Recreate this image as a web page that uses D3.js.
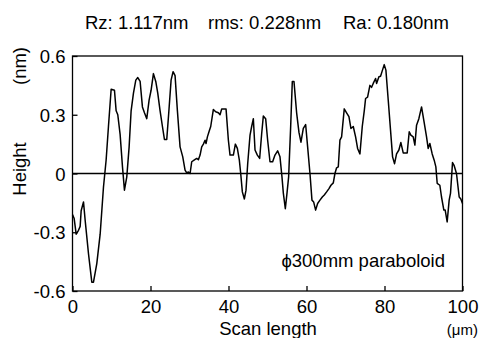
<!DOCTYPE html>
<html><head><meta charset="utf-8">
<script src="https://cdn.jsdelivr.net/npm/d3@7"></script>
<style>
html,body{margin:0;padding:0;background:#fff;}
svg{display:block;font-family:"Liberation Sans",Arial,sans-serif;}
</style></head>
<body>
<svg id="c" width="479" height="338"></svg>
<script>
const titleParts = ["Rz: 1.117nm", "rms: 0.228nm", "Ra: 0.180nm"];
const xTicks = [0, 20, 40, 60, 80, 100];
const yTicks = [-0.6, -0.3, 0, 0.3, 0.6];
const yTickLabels = ["-0.6", "-0.3", "0", "0.3", "0.6"];
const scanX = [0,0.43,0.94,1.54,1.96,2.22,2.82,3.25,4.10,4.95,5.38,6.23,7.09,7.94,8.63,9.22,9.91,10.76,11.19,11.61,12.21,12.81,13.32,13.92,14.52,15.03,15.63,16.23,16.74,17.34,17.93,18.45,19.04,19.64,20.15,20.75,21.35,21.86,22.46,23.06,23.57,24.17,24.68,25.28,25.79,26.30,26.90,27.58,28.27,28.86,29.29,29.72,30.15,30.57,31.17,31.85,32.28,32.71,33.13,33.56,33.99,34.24,34.59,35.10,35.44,36.12,36.72,37.40,37.83,38.26,38.86,39.37,39.97,40.39,41.25,41.76,42.27,42.78,43.13,43.55,44.07,44.49,44.92,45.52,45.94,46.37,46.80,47.40,47.99,48.51,48.93,49.53,50.04,50.64,51.32,51.92,52.60,53.20,53.71,54.06,54.57,55.00,55.42,55.94,56.36,56.79,57.47,58.07,58.58,59.18,59.78,60.29,60.89,61.40,61.83,62.34,62.85,63.45,64.05,64.56,65.16,65.76,66.27,66.87,67.29,67.72,68.15,68.57,69.00,69.68,70.28,70.88,71.39,71.99,72.59,73.10,73.70,74.30,74.81,75.15,75.66,76.26,76.69,77.11,77.71,77.97,78.57,78.99,79.42,79.93,80.36,80.96,81.55,82.07,82.58,83.09,83.69,84.20,84.80,85.40,85.82,86.34,86.76,87.36,87.79,88.22,88.81,89.50,90.09,90.78,91.20,91.63,92.23,92.74,93.17,93.51,94.19,94.62,95.22,95.56,96.07,96.58,96.93,97.44,97.87,98.46,99.15,99.57,100];
const heightNm = [-0.21,-0.23,-0.31,-0.29,-0.27,-0.19,-0.145,-0.24,-0.41,-0.555,-0.555,-0.46,-0.31,-0.07,0.07,0.24,0.43,0.425,0.32,0.30,0.20,0.035,-0.085,-0.017,0.136,0.32,0.41,0.477,0.49,0.47,0.34,0.31,0.28,0.375,0.425,0.51,0.47,0.41,0.32,0.24,0.174,0.174,0.31,0.477,0.52,0.50,0.32,0.136,0.085,0.017,0.003,0.008,0,0.06,0.068,0.077,0.07,0.094,0.136,0.15,0.17,0.153,0.187,0.22,0.24,0.327,0.315,0.31,0.30,0.33,0.33,0.33,0.17,0.094,0.094,0.15,0.128,0.068,0,-0.094,-0.13,-0.085,0.05,0.196,0.24,0.28,0.12,0.094,0.077,0.204,0.293,0.28,0.17,0.06,0.06,0.094,0.116,0.085,-0.017,-0.10,-0.18,-0.10,-0.017,0.24,0.47,0.47,0.31,0.21,0.16,0.23,0.25,0.136,0,-0.136,-0.145,-0.187,-0.153,-0.136,-0.12,-0.11,-0.094,-0.077,-0.06,-0.048,0,0.029,0.034,0.17,0.187,0.33,0.31,0.29,0.23,0.24,0.187,0.128,0.10,0.24,0.32,0.383,0.39,0.45,0.44,0.46,0.485,0.46,0.494,0.497,0.524,0.556,0.528,0.374,0.22,0.085,0.05,0.10,0.12,0.158,0.105,0.105,0.105,0.213,0.196,0.187,0.145,0.247,0.28,0.34,0.27,0.187,0.128,0.153,0.10,0.068,0.034,-0.05,-0.06,-0.12,-0.187,-0.187,-0.247,-0.136,-0.10,0.056,0.04,0,-0.12,-0.13,-0.153];

const svg = d3.select("#c");
const L = 72.5, R = 462.5, T = 56, B = 291;
const x = d3.scaleLinear().domain([0, 100]).range([L, R]);
const y = d3.scaleLinear().domain([-0.6, 0.6]).range([B, T]);
const FS = 18.5;

// frame
svg.append("rect").attr("x", L).attr("y", T).attr("width", R - L).attr("height", B - T)
  .attr("fill", "none").attr("stroke", "#000").attr("stroke-width", 1.3);

// axes with inward ticks
const xAxis = svg.append("g").attr("transform", `translate(0,${B})`)
  .call(d3.axisBottom(x).tickValues(xTicks).tickSizeInner(-5).tickSizeOuter(0).tickPadding(9).tickFormat(d3.format("d")));
const yAxis = svg.append("g").attr("transform", `translate(${L},0)`)
  .call(d3.axisLeft(y).tickValues(yTicks).tickSizeInner(-5).tickSizeOuter(0).tickPadding(7).tickFormat((d, i) => yTickLabels[i]));
[xAxis, yAxis].forEach(g => {
  g.select(".domain").remove();
  g.selectAll("line").attr("stroke", "#000").attr("stroke-width", 1.3);
  g.selectAll("text").attr("font-size", FS).attr("fill", "#000").attr("font-family", "Liberation Sans, Arial, sans-serif");
});
yAxis.selectAll("text").attr("dy", "0.36em");

// zero line
svg.append("line").attr("x1", L).attr("x2", R).attr("y1", y(0)).attr("y2", y(0))
  .attr("stroke", "#000").attr("stroke-width", 1.3);

// profile
svg.append("path")
  .datum(scanX.map((v, i) => [v, heightNm[i]]))
  .attr("fill", "none").attr("stroke", "#000").attr("stroke-width", 1.5).attr("stroke-linejoin", "round")
  .attr("d", d3.line().x(d => x(d[0])).y(d => y(d[1])));

// title (three parts)
const titleX = [85, 208, 343];
svg.selectAll("text.title").data(titleParts).join("text").attr("class", "title")
  .attr("x", (d, i) => titleX[i]).attr("y", 29).attr("font-size", FS).text(d => d);

// y label
svg.append("text").attr("transform", "translate(26,169) rotate(-90)").attr("text-anchor", "middle")
  .attr("font-size", FS).text("Height");
svg.append("text").attr("transform", "translate(26,66) rotate(-90)").attr("text-anchor", "middle")
  .attr("font-size", FS).text("(nm)");

// x label
svg.append("text").attr("x", 268).attr("y", 335).attr("text-anchor", "middle")
  .attr("font-size", FS).text("Scan length");
svg.append("text").attr("x", 478).attr("y", 335).attr("text-anchor", "end")
  .attr("font-size", 15).text("(\u03bcm)");

// annotation
svg.append("text").attr("x", 445).attr("y", 267).attr("text-anchor", "end")
  .attr("font-size", FS).text("\u03d5300mm paraboloid");
</script>
</body></html>
